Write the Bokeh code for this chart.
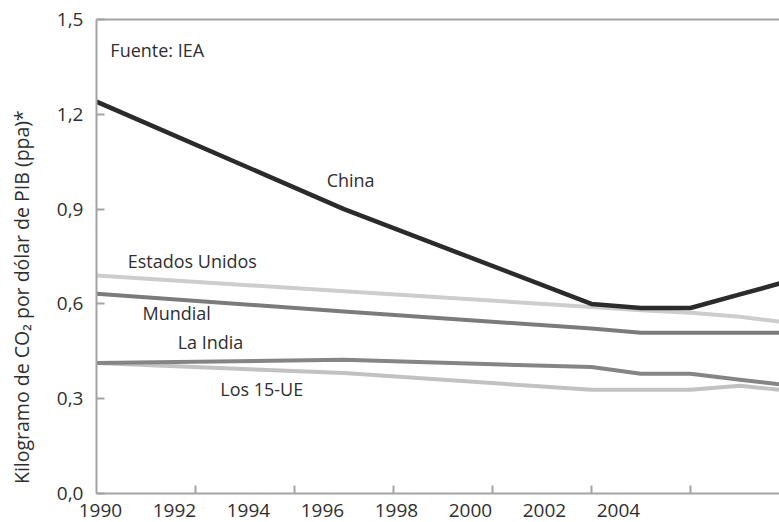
from bokeh.plotting import figure
from bokeh.models import Range1d, FixedTicker, CustomJSTickFormatter, LinearAxis, Label
from bokeh.embed import file_html
from bokeh.resources import INLINE

# Carbon intensity: kg of CO2 per dollar of GDP (PPP), source IEA
years = [1990, 1995, 2000, 2001, 2002, 2003, 2004]
china = [1.24, 0.90, 0.60, 0.587, 0.587, 0.63, 0.673]
estados_unidos = [0.69, 0.64, 0.59, 0.58, 0.572, 0.559, 0.54]
mundial = [0.632, 0.576, 0.522, 0.509, 0.509, 0.509, 0.509]
la_india = [0.413, 0.423, 0.40, 0.379, 0.379, 0.36, 0.342]
los_15_ue = [0.413, 0.381, 0.328, 0.328, 0.328, 0.341, 0.325]

x_tick_labels = ["1990", "1992", "1994", "1996", "1998", "2000", "2002", "2004"]
y_ticks = [0.0, 0.3, 0.6, 0.9, 1.2, 1.5]

FONT = "Open Sans"
TEXT = "#2f2f2f"
AXIS = "#a3a3a3"

p = figure(frame_width=683, frame_height=474,
           x_range=Range1d(1990, 2003.8), y_range=Range1d(0, 1.5),
           output_backend="svg", toolbar_location=None,
           min_border_left=96, min_border_right=0,
           min_border_top=19, min_border_bottom=29,
           background_fill_color="white", border_fill_color="white")
p.outline_line_color = None
p.grid.visible = False

# year labels sit on their own spacing; small tick marks every two years
label_pos = [1990.08 + 1.495 * i for i in range(len(x_tick_labels))]
tick_years = list(range(1992, 2005, 2))
xa = p.xaxis[0]
xa.ticker = FixedTicker(ticks=label_pos, minor_ticks=tick_years)
xa.formatter = CustomJSTickFormatter(args=dict(labels=x_tick_labels),
                                     code="return labels[index]")
xa.major_tick_line_color = None
xa.major_tick_in = 0
xa.major_tick_out = 0
xa.minor_tick_in = 8
xa.minor_tick_out = 0
xa.minor_tick_line_color = AXIS
xa.minor_tick_line_width = 2
xa.axis_line_color = AXIS
xa.axis_line_width = 2
xa.major_label_standoff = 10
xa.major_label_text_font = FONT
xa.major_label_text_font_size = "19px"
xa.major_label_text_color = TEXT

ya = p.yaxis[0]
ya.ticker = FixedTicker(ticks=y_ticks)
ya.formatter = CustomJSTickFormatter(code="return tick.toFixed(1).replace('.', ',')")
ya.major_tick_in = 8
ya.major_tick_out = 0
ya.major_tick_line_color = AXIS
ya.major_tick_line_width = 2
ya.minor_tick_line_color = None
ya.axis_line_color = AXIS
ya.axis_line_width = 2
ya.major_label_standoff = 13
ya.major_label_text_font = FONT
ya.major_label_text_font_size = "19px"
ya.major_label_text_color = TEXT
# trailing em spaces move the title down towards the x axis
ya.axis_label = "Kilogramo de CO\u2082 por dólar de PIB (ppa)*" + "\u2003" * 4 + "\u2009"
ya.axis_label_standoff = 19
ya.axis_label_text_font = FONT
ya.axis_label_text_font_size = "19.5px"
ya.axis_label_text_font_style = "normal"
ya.axis_label_text_color = TEXT

# plain rule along the top of the frame
top = LinearAxis(ticker=FixedTicker(ticks=[]), axis_line_color=AXIS,
                 axis_line_width=2, major_tick_line_color=None,
                 minor_tick_line_color=None, major_label_text_font_size="0px")
p.add_layout(top, "above")

series = [
    (estados_unidos, "#cdcdcd", 4),
    (mundial, "#7b7b7b", 4),
    (los_15_ue, "#c2c2c2", 4),
    (la_india, "#858585", 4),
    (china, "#2b2b2b", 4.5),
]
for vals, color, width in series:
    p.line(years, vals, line_color=color, line_width=width, line_join="round")

names = [
    ("Fuente: IEA", 1990.28, 1.402),
    ("China", 1994.65, 0.993),
    ("Estados Unidos", 1990.63, 0.737),
    ("Mundial", 1990.93, 0.572),
    ("La India", 1991.64, 0.481),
    ("Los 15-UE", 1992.5, 0.331),
]
for txt, x, y in names:
    p.add_layout(Label(x=x, y=y, text=txt, text_font=FONT, text_font_size="18px",
                       text_color=TEXT, text_align="left", text_baseline="middle"))

open("out.html", "w").write(file_html(p, INLINE))
